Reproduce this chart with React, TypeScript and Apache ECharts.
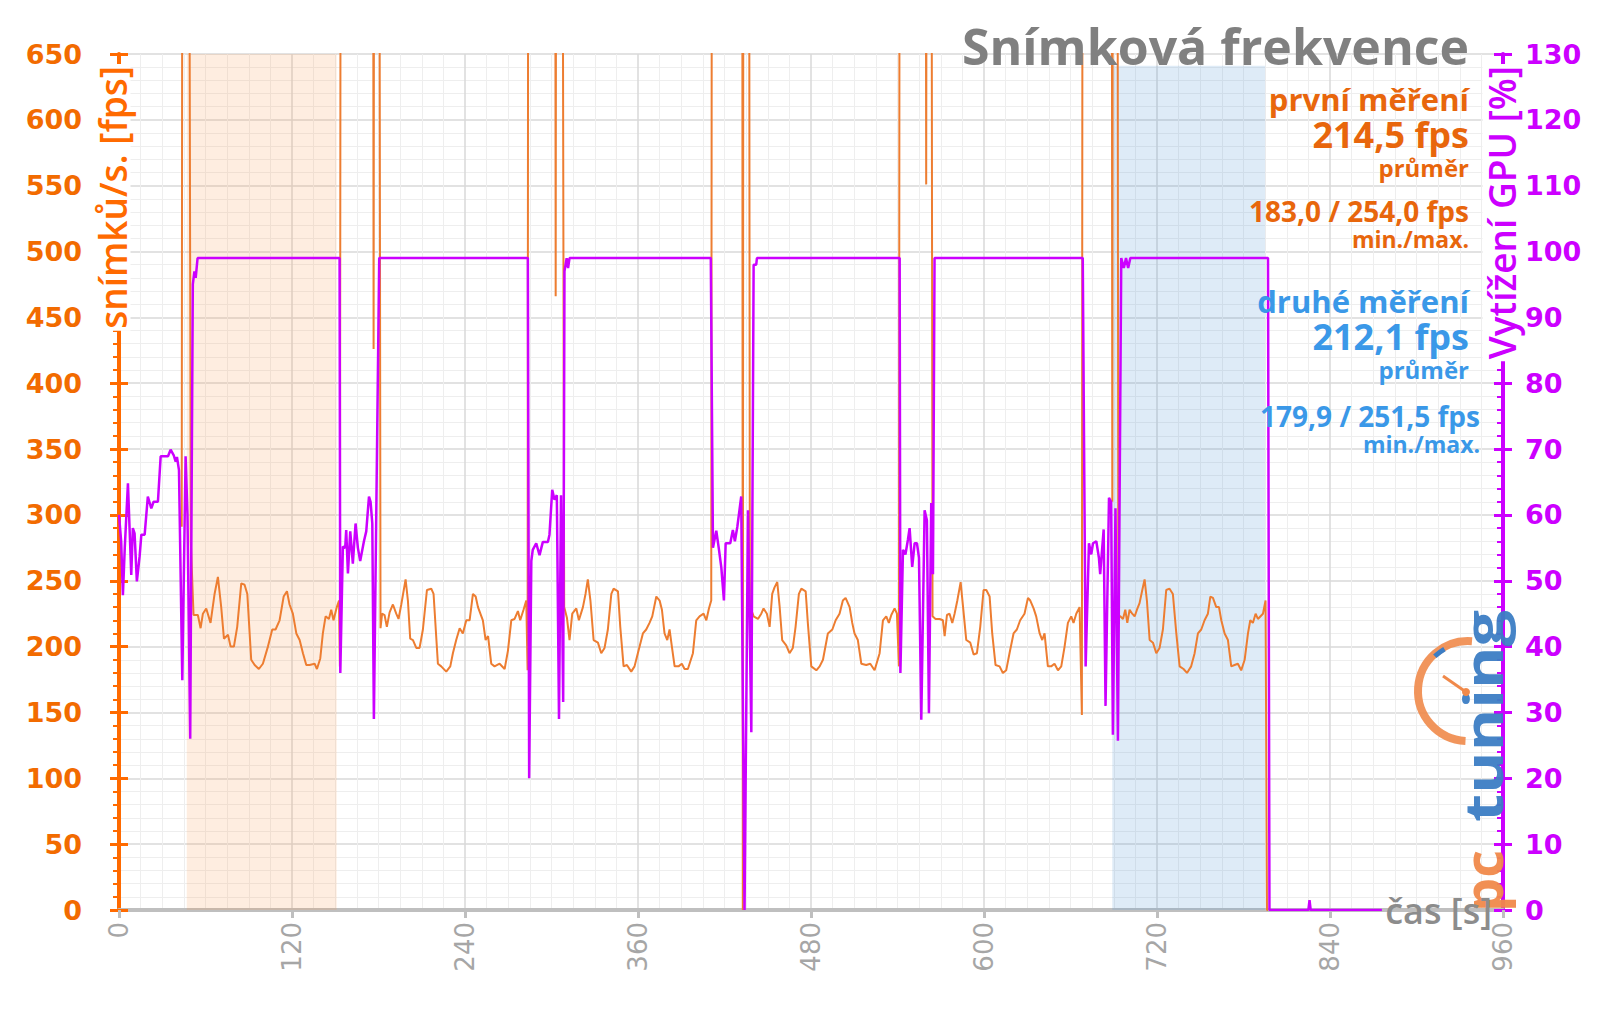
import React, { useEffect, useRef } from "react";
import * as echarts from "echarts";

// ---- data: first measurement (fps), time in seconds ----
const fpsTime = [
  43.5, 44, 48.5, 49.8, 51.7, 54.7, 56.6, 58.2, 60.5, 63.5, 66.3, 68.6, 70.9, 72.8, 75.6, 77.4, 79.7, 82, 84.8, 87.1, 89,
  91.7, 94.1, 97, 99.8, 103.3, 106.3, 108.6, 111.4, 114.2, 116.5, 118.3, 120.6, 123, 125.3, 127.6, 129.9, 132.2, 135.7,
  137.3, 139.6, 141.4, 143.3, 145.6, 147.2, 148.8, 151.1, 152.6, 153.2, 153.8,
  176.2, 176.6, 177.0, 180.5, 181.4, 182.5, 184.2, 185.8, 187.7, 190, 192.3, 193.9, 195.8, 198.8, 200.4, 202, 203.9,
  206.2, 208.5, 210.8, 213.6, 216.6, 218.2, 221.2, 223.5, 227, 229.8, 231.6, 233.9, 236.3, 238.5, 240.9, 243.2, 245.5,
  247.4, 249, 252.4, 254.3, 256, 258.2, 260.5, 264, 267.5, 269.8, 272.1, 274.4, 276.7, 278.3, 280.6, 282.5, 283.4, 283.9,
  302.5, 302.9, 303.3, 307.5, 308.8, 310.7, 312.5, 314.4, 317.2, 319, 321.8, 323.6, 325.2, 327, 329.2, 332.2, 334.5,
  336.8, 339.1, 341.5, 343.1, 346.1, 347.7, 350, 352.3, 355.3, 357.6, 359.9, 363.4, 365.7, 368, 369.9, 372.7, 375,
  376.6, 378.4, 380.3, 381.9, 383.5, 385.4, 388.1, 390.4, 392.3, 394.6, 398.1, 400.4, 402.7, 405.5, 407.4, 409.2,
  410.8, 411.3,
  432.3, 432.7, 433.1, 437.0, 437.6, 440.2, 443.2, 445.5, 447.1, 449.4, 451.3, 453.1, 454.7, 456.6, 458.2, 460, 462.8,
  465.1, 467.4, 469.3, 471.6, 473.3, 476.3, 477.8, 480.2, 483.7, 486, 488.3, 491.7, 494.8, 497.1, 499.8, 502.1, 504,
  506.8, 508.6, 510.2, 512.5, 514.9, 518.3, 521.1, 524.1, 527.6, 529.9, 532.2, 534, 535.7, 538, 539.6, 541, 541.5,
  559.5, 559.9, 560.3, 563.5, 564.3, 566.4, 569.2, 571.5, 572.7, 574.3, 576.1, 578, 579.6, 581.5, 583.8, 585.4, 587.7,
  590.5, 592.8, 595.1, 597.4, 599.7, 601.6, 603.9, 605.7, 608, 610.8, 613.1, 615.4, 617.7, 620.5, 622.8, 625.1, 628.1,
  630.5, 632.1, 634.4, 636.2, 638.6, 640.4, 642, 644.3, 646.6, 648.9, 651.3, 653.6, 655.9, 658.2, 660.5, 662.1, 664,
  666.3, 667.9, 668.4,
  688.6, 689, 689.4, 692.5, 693.2, 694.5, 696.4, 698, 699.4, 701, 702.8, 704.5, 706.1, 707.9, 709.8, 711.4, 713, 714.9,
  717.2, 719.5, 721.8, 724.1, 726.4, 728.7, 731, 733.4, 735.7, 738.4, 740.8, 743.7, 746.1, 748.4, 750.7, 753, 755.3,
  757, 758.8, 761.1, 763, 764.6, 766.9, 769.2, 771.5, 773.8, 776.1, 778.4, 780.8, 783.1, 784.7, 786.5, 788.4, 790,
  793.5, 795.3, 796.3, 797,
];
const fpsValue = [
  291, 900, 900, 280, 224, 224, 214, 225, 229, 218, 240, 253, 230, 206, 209, 200, 200, 215, 248, 247, 240,
  190, 186, 183, 187, 200, 213, 213, 220, 238, 242, 232, 225, 210, 205, 195, 186, 186, 187,
  183, 191, 210, 223, 221, 228, 220, 230, 235, 185, 900,
  900, 426, 900, 900, 214, 225, 224, 215, 226, 232, 225, 221, 232, 251, 235, 206, 205,
  199, 199, 213, 243, 244, 240, 187, 185, 181, 185, 195, 205, 214, 210, 220, 220, 240,
  238, 230, 220, 205, 208, 187, 185, 187, 183, 197, 220, 221, 227, 220, 228, 235, 182, 900,
  900, 466, 900, 900, 230, 222, 205, 225, 229, 220, 230, 240, 251, 235, 205, 203, 195,
  199, 213, 240, 244, 242, 215, 185, 186, 181, 185, 195, 210, 213, 218, 223, 238, 235,
  228, 210, 205, 213, 200, 185, 185, 187, 183, 183, 195, 220, 223, 225, 220, 229,
  235, 900,
  900, 0, 900, 900, 231, 223, 221, 225, 229, 225, 215, 240, 245, 249, 231, 205, 201,
  195, 199, 215, 240, 244, 242, 218, 185, 182, 185, 190, 210, 213, 220, 225, 235, 237,
  230, 218, 210, 205, 187, 186, 187, 182, 195, 220, 223, 218, 224, 229, 225, 185, 900,
  900, 551, 900, 900, 223, 221, 221, 220, 208, 224, 225, 218, 225, 235, 249, 231, 205,
  203, 194, 195, 215, 243, 243, 238, 210, 186, 185, 180, 182, 195, 210, 213, 220, 225,
  237, 235, 229, 223, 210, 205, 210, 185, 185, 187, 182, 185, 200, 218, 223, 218, 225,
  230, 148, 900,
  900, 310, 900, 900, 223, 223, 221, 228, 218, 228, 225, 223, 228, 233, 243, 251, 235, 205,
  203, 195, 199, 213, 243, 244, 240, 210, 185, 183, 180, 185, 195, 210, 213, 220, 225,
  238, 237, 230, 230, 220, 210, 205, 185, 186, 187, 182, 190, 210, 220, 218, 225, 221,
  225, 235, 0, 0,
];

// ---- data: GPU utilisation [%] ----
const gpuTime = [
  0, 1.5, 2.7, 4, 6.2, 8.5, 9.6, 10.8, 12.4, 14.3, 15.5, 17.8, 20, 22.4, 24, 27, 28.9, 34, 35.8, 37.9, 39.3, 40.2, 41.6,
  43.9, 46.2, 47.5, 49.4, 51.2, 52.3, 53.2, 54.5, 153,
  153.5, 155.3, 156.9, 157.6, 158.8, 160.4, 162.2, 164.1, 165.7, 167.3, 169.9, 171.5, 173.4, 174.5, 175.7, 176.8, 178.5,
  180.5, 283.6,
  284.5, 286, 287, 289.4, 291.7, 294, 297.5, 298.6, 300.5, 302.1, 303.7, 305.2, 306.6, 308.1, 309, 310.5, 311.5, 312.5,
  410.5,
  412, 414.3, 416, 417.8, 419.6, 420.8, 424, 425.8, 427.2, 428.9, 431.6, 433.9, 436.3, 438.6, 440.2, 442, 442.5, 541.5,
  542, 543.8, 545.5, 547.2, 548.4, 550.2, 551.9, 553.5, 554.9, 556.5, 558.8, 560.4, 561.8, 563.4, 564.6, 565.7, 668.5,
  670.5, 672.8, 674.4, 675.6, 677.9, 679.7, 680.6, 683, 684.3, 686.7, 688.2, 689.4, 691.2, 692.9, 695.2, 697, 698.5,
  700, 701.5, 797,
  798, 825, 825.8, 826.6, 876,
];
const gpuValue = [
  60, 56, 47.8, 55, 64.8, 50.9, 58, 57.2, 49.9, 53.7, 57, 57, 62.8, 61, 62, 62, 68.9, 68.9, 69.9, 69.1, 68.1, 68.8, 66.8,
  34.9, 68.9, 60, 26, 95, 97, 96, 99, 99,
  36, 55.2, 55, 57.7, 51.1, 57.5, 52.6, 58.7, 55, 53, 56, 57.5, 62.8, 62, 58.7, 29, 61,
  99, 99,
  20, 53, 54.7, 55.7, 53.9, 55.9, 55.9, 57, 63.8, 62.3, 63, 29, 63, 31.6, 97, 99, 97.5, 99,
  99,
  55, 57.6, 55, 52, 47, 55.7, 55.7, 57.7, 56, 58.2, 62.8, 0, 60.7, 27, 98, 98, 99, 99,
  36, 54.7, 54, 56.2, 58, 52.1, 55.7, 55.7, 53.5, 28.9, 60.7, 59.2, 29.9, 61.8, 51, 99, 99,
  37, 55.7, 54, 55.7, 56, 53.5, 51, 57.8, 31, 62.6, 62, 26.6, 61, 25.7, 99, 97.5, 99,
  97.5, 99, 99,
  0, 0, 1.5, 0, 0,
];

// highlighted test runs [start, end] in seconds
const firstRun = [47, 151];
const secondRun = [689, 795];

// axis ranges
const timeMax = 960;
const timeStep = 120;
const fpsMax = 650;
const fpsStep = 50;
const gpuMax = 130;
const gpuStep = 10;

const ORANGE_AX = "#FF6A00";
const ORANGE_TXT = "#E8660C";
const MAGENTA = "#CC00FF";
const BLUE = "#3A98E8";

function zip(a: number[], b: number[]) {
  return a.map((t, i) => [t, b[i]]);
}

function txt(text: string, x: number, y: number, size: number, color: string, weight: any = "bold", align = "right") {
  return {
    type: "text",
    x,
    y,
    z: 100,
    silent: true,
    style: {
      text,
      fontSize: size,
      fontFamily: "Open Sans",
      fontWeight: weight,
      fill: color,
      align,
      verticalAlign: "middle",
    },
  };
}

export default function App() {
  const ref = useRef<HTMLDivElement>(null);

  useEffect(() => {
    const chart = echarts.init(ref.current as HTMLDivElement, null, { renderer: "svg" });
    const gridLine = { show: true, lineStyle: { color: "#d9d9d9", width: 1.5 } };
    const minorLine = { show: true, lineStyle: { color: "#eeeeee", width: 1 } };

    const option: any = {
      animation: false,
      backgroundColor: "#ffffff",
      grid: { left: 119, right: 97, top: 54, bottom: 99, containLabel: false },
      xAxis: {
        type: "value",
        min: 0,
        max: timeMax,
        interval: timeStep,
        axisLine: { show: true, lineStyle: { color: "#bfbfbf", width: 4 } },
        axisTick: { show: true, length: 8, lineStyle: { color: "#bfbfbf", width: 3 } },
        axisLabel: { rotate: 90, color: "#a6a6a6", fontSize: 26, fontFamily: "DejaVu Sans", margin: 12 },
        splitLine: gridLine,
        minorTick: { show: false, splitNumber: 8 },
        minorSplitLine: minorLine,
      },
      yAxis: [
        {
          type: "value",
          position: "left",
          min: 0,
          max: fpsMax,
          interval: fpsStep,
          axisLine: { show: true, lineStyle: { color: ORANGE_AX, width: 4 } },
          axisTick: { show: true, length: 9, lineStyle: { color: ORANGE_AX, width: 3 } },
          minorTick: { show: true, splitNumber: 5, length: 6, lineStyle: { color: ORANGE_AX, width: 2 } },
          axisLabel: { color: "#F26B00", fontSize: 27, fontWeight: "bold", fontFamily: "DejaVu Sans", margin: 37 },
          splitLine: gridLine,
          minorSplitLine: minorLine,
        },
        {
          type: "value",
          position: "right",
          min: 0,
          max: gpuMax,
          interval: gpuStep,
          axisLine: { show: true, lineStyle: { color: MAGENTA, width: 4 } },
          axisTick: { show: true, inside: true, length: 9, lineStyle: { color: MAGENTA, width: 3 } },
          minorTick: { show: true, splitNumber: 5, length: 6, lineStyle: { color: MAGENTA, width: 2 } },
          axisLabel: { color: MAGENTA, fontSize: 27, fontWeight: "bold", fontFamily: "DejaVu Sans", margin: 22 },
          splitLine: { show: false },
        },
        {
          type: "value",
          position: "left",
          min: 0,
          max: fpsMax,
          interval: fpsStep,
          axisLine: { show: false },
          axisTick: { show: true, inside: true, length: 9, lineStyle: { color: ORANGE_AX, width: 3 } },
          axisLabel: { show: false },
          splitLine: { show: false },
        },
        {
          type: "value",
          position: "right",
          min: 0,
          max: gpuMax,
          interval: gpuStep,
          axisLine: { show: false },
          axisTick: { show: true, inside: false, length: 9, lineStyle: { color: MAGENTA, width: 3 } },
          axisLabel: { show: false },
          splitLine: { show: false },
        },
      ],
      series: [
        {
          type: "line",
          name: "fps",
          yAxisIndex: 0,
          data: zip(fpsTime, fpsValue),
          symbol: "none",
          clip: true,
          lineStyle: { color: "#ED7D31", width: 2 },
          z: 3,
          markArea: {
            silent: true,
            data: [
              [{ xAxis: firstRun[0], itemStyle: { color: "rgba(247,150,70,0.17)" } }, { xAxis: firstRun[1] }],
              [
                { xAxis: secondRun[0], yAxis: 0, itemStyle: { color: "rgba(91,155,213,0.2)" } },
                { xAxis: secondRun[1], yAxis: 641 },
              ],
            ],
          },
        },
        {
          type: "line",
          name: "gpu",
          yAxisIndex: 1,
          data: zip(gpuTime, gpuValue),
          symbol: "none",
          clip: true,
          lineStyle: { color: MAGENTA, width: 2.5 },
          z: 4,
        },
      ],
      graphic: [
        // title
        {
          type: "text",
          x: 1469,
          y: 46,
          z: 100,
          silent: true,
          style: {
            text: "Snímková frekvence",
            fontSize: 50,
            fontFamily: "Open Sans",
            fontWeight: "bold",
            fill: "#808080",
            align: "right",
            verticalAlign: "middle",
          },
        },
        // measurement summaries
        txt("první měření", 1469, 99, 31, ORANGE_TXT),
        txt("214,5 fps", 1469, 134, 36, ORANGE_TXT),
        txt("průměr", 1469, 167, 24, ORANGE_TXT),
        txt("183,0 / 254,0 fps", 1469, 211, 28, ORANGE_TXT),
        txt("min./max.", 1469, 239, 23, ORANGE_TXT),
        txt("druhé měření", 1469, 301, 31, BLUE),
        txt("212,1 fps", 1469, 336, 36, BLUE),
        txt("průměr", 1469, 369, 24, BLUE),
        txt("179,9 / 251,5 fps", 1480, 416, 28, BLUE),
        txt("min./max.", 1480, 444, 23, BLUE),
        // axis names
        {
          type: "text",
          x: 112,
          y: 64,
          rotation: Math.PI / 2,
          z: 100,
          silent: true,
          style: {
            text: "snímků/s. [fps]",
            fontSize: 37,
            fontFamily: "Open Sans",
            fontWeight: 600,
            fill: ORANGE_AX,
            align: "right",
            verticalAlign: "middle",
            backgroundColor: "#ffffff",
            padding: [0, 2, 0, 2],
          },
        },
        {
          type: "text",
          x: 1501,
          y: 64,
          rotation: Math.PI / 2,
          z: 100,
          silent: true,
          style: {
            text: "Vytížení GPU [%]",
            fontSize: 37,
            fontFamily: "Open Sans",
            fontWeight: 600,
            fill: MAGENTA,
            align: "right",
            verticalAlign: "middle",
            backgroundColor: "#ffffff",
            padding: [0, 2, 0, 2],
          },
        },
        {
          type: "text",
          x: 1492,
          y: 910,
          z: 100,
          silent: true,
          style: {
            text: "čas [s]",
            fontSize: 36,
            fontFamily: "Open Sans",
            fontWeight: 600,
            fill: "#8c8c8c",
            align: "right",
            verticalAlign: "middle",
          },
        },
        // logo
        {
          type: "arc",
          z: 1,
          silent: true,
          shape: { cx: 1468, cy: 691, r: 50, startAngle: Math.PI / 2 + 0.05, endAngle: (3 * Math.PI) / 2 + 0.08, clockwise: true },
          style: { stroke: "#F0894A", lineWidth: 8, fill: "none", opacity: 0.9 },
        },
        {
          type: "arc",
          z: 2,
          silent: true,
          shape: { cx: 1468, cy: 691, r: 48, startAngle: 3.95, endAngle: 4.2, clockwise: true },
          style: { stroke: "#3C7DC4", lineWidth: 5, fill: "none" },
        },
        {
          type: "line",
          z: 2,
          silent: true,
          shape: { x1: 1443, y1: 676, x2: 1466, y2: 692 },
          style: { stroke: "#F0894A", lineWidth: 3 },
        },
        { type: "circle", z: 2, silent: true, shape: { cx: 1466, cy: 692, r: 4 }, style: { fill: "#F0894A" } },
        {
          type: "text",
          x: 1482,
          y: 912,
          rotation: Math.PI / 2,
          z: 1,
          silent: true,
          style: {
            text: "pc",
            fontSize: 54,
            fontFamily: "Open Sans",
            fontWeight: "bold",
            fill: "#F0894A",
            align: "left",
            verticalAlign: "middle",
            opacity: 0.95,
          },
        },
        {
          type: "text",
          x: 1482,
          y: 822,
          rotation: Math.PI / 2,
          scaleX: 1.2,
          z: 1,
          silent: true,
          style: {
            text: "tuning",
            fontSize: 54,
            fontFamily: "Open Sans",
            fontWeight: "bold",
            fill: "#3C7DC4",
            align: "left",
            verticalAlign: "middle",
            opacity: 0.95,
          },
        },
      ],
    };

    chart.setOption(option);
    return () => chart.dispose();
  }, []);

  return <div ref={ref} style={{ position: "absolute", left: 0, top: 0, width: 1600, height: 1009 }} />;
}
